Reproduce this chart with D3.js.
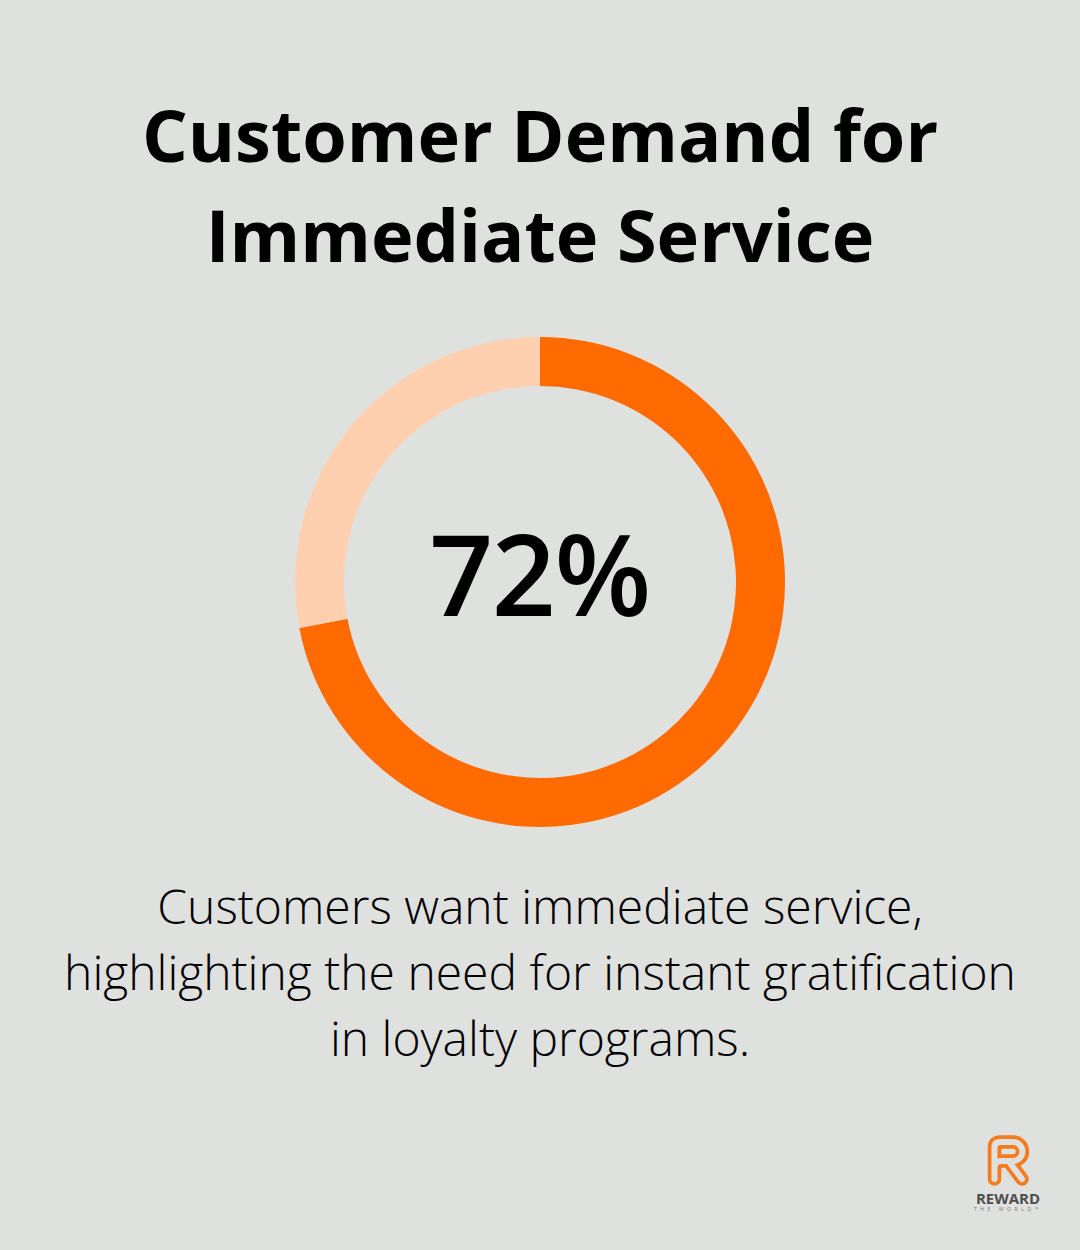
<!DOCTYPE html>
<html><head><meta charset="utf-8">
<script src="https://cdn.jsdelivr.net/npm/d3@7"></script>
<style>html,body{margin:0;padding:0;background:#dfe1df}svg{display:block}</style>
</head><body>
<svg id="c" width="1080" height="1250"></svg>
<script>
const titleLines = ["Customer Demand for","Immediate Service"];
const bodyLines = ["Customers want immediate service,","highlighting the need for instant gratification","in loyalty programs."];
const centerLabel = "72%";
const categories = ["Demand immediate service","Other"];
const values = [72,28];
const colors = ["#ff6b00","#ffd0b0"];
const bg = "#dfe1df";
const svg = d3.select("#c");
svg.append("rect").attr("width",1080).attr("height",1250).attr("fill",bg);
const font = "'Open Sans'";
svg.selectAll(".t").data(titleLines).join("text").attr("x",540).attr("y",(d,i)=>162+i*100)
 .attr("text-anchor","middle").attr("font-family",font).attr("font-weight",700).attr("font-size",72).attr("fill","#000").text(d=>d);
const pie = d3.pie().sort(null)(values);
const arc = d3.arc().innerRadius(196).outerRadius(245);
svg.append("g").attr("transform","translate(540,582)").selectAll("path").data(pie).join("path").attr("d",arc).attr("fill",(d,i)=>colors[i]);
svg.append("text").attr("x",539.5).attr("y",616).attr("text-anchor","middle").attr("font-family",font).attr("font-weight",600).attr("font-size",112).attr("letter-spacing",-1.5).attr("fill","#000").text(centerLabel);
svg.selectAll(".b").data(bodyLines).join("text").attr("x",540).attr("y",(d,i)=>924+i*66)
 .attr("text-anchor","middle").attr("font-family",font).attr("font-weight",300).attr("font-size",48).attr("fill","#000").text(d=>d);
// logo: double-line R made of a wide orange stroke with a narrower background stroke on top
const g = svg.append("g");
const bowl = d3.path();
bowl.moveTo(994.5,1179);bowl.lineTo(994.5,1147);bowl.quadraticCurveTo(994.5,1142,1000,1142);bowl.lineTo(1013,1142);
bowl.arc(1013,1151.5,9.5,-Math.PI/2,Math.PI/2);bowl.lineTo(1001,1161);bowl.quadraticCurveTo(994.5,1161,994.5,1168);
const leg = d3.path();
leg.moveTo(1010,1163);leg.lineTo(1022,1179);
[bowl,leg].forEach(p=>{
  g.append("path").attr("d",p.toString()).attr("fill","none").attr("stroke","#f47b20").attr("stroke-width",13.5).attr("stroke-linecap","round").attr("stroke-linejoin","round");
});
[bowl,leg].forEach(p=>{
  g.append("path").attr("d",p.toString()).attr("fill","none").attr("stroke",bg).attr("stroke-width",6).attr("stroke-linecap","round").attr("stroke-linejoin","round");
});
g.append("text").attr("x",1008).attr("y",1204).attr("text-anchor","middle").attr("font-family","'Open Sans'").attr("font-weight",700).attr("font-size",15).attr("fill","#4f4f4f").text("REWARD");
g.append("text").attr("x",1008).attr("y",1210.5).attr("text-anchor","middle").attr("font-family","'Open Sans'").attr("font-size",5).attr("letter-spacing",3.6).attr("fill","#777").text("THE WORLD™");
</script>
</body></html>
